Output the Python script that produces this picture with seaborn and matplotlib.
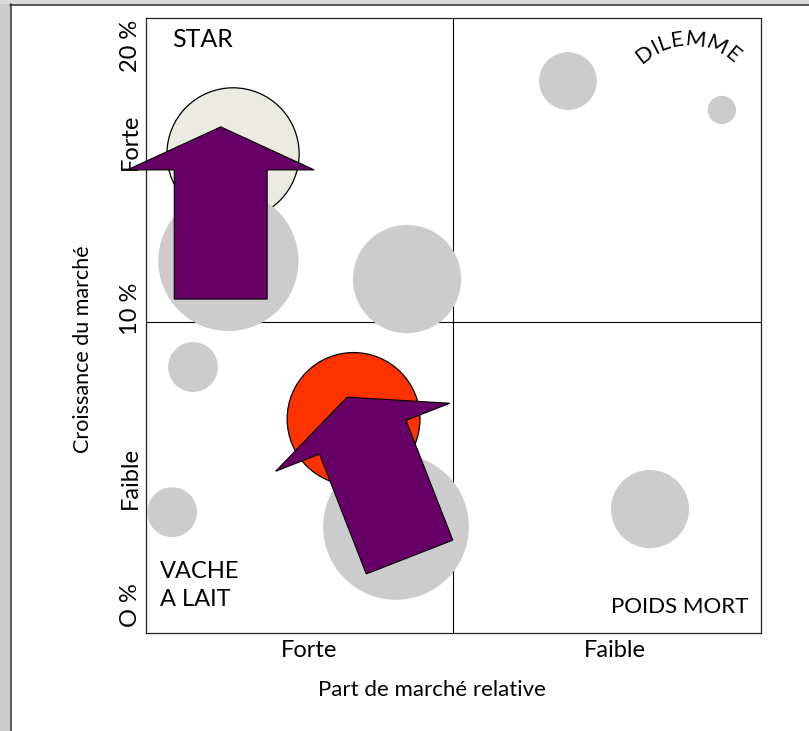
import numpy as np
import pandas as pd
import matplotlib
matplotlib.use("Agg")
import matplotlib.pyplot as plt
import seaborn as sns
from matplotlib.patches import Polygon, Rectangle
from matplotlib.lines import Line2D

# Portfolio bubbles: relative market share (0-20 scale, strong on the left),
# market growth in %, bubble radius in the same units
bubble_share = [2.83, 2.68, 8.49, 13.72, 18.73, 1.53, 6.75, 8.13, 0.85, 16.39]
bubble_growth = [15.58, 12.10, 11.51, 17.95, 17.01, 8.65, 6.96, 3.45, 3.93, 4.03]
bubble_radius = [2.15, 2.28, 1.76, 0.94, 0.46, 0.81, 2.16, 2.37, 0.81, 1.27]
bubble_kind = ["star", "other", "other", "other", "other",
               "other", "focus", "other", "other", "other"]

# Strategic moves: from tail to tip
arrow_tail = [(2.43, 10.86), (8.57, 2.47)]
arrow_tip = [(2.43, 16.46), (6.54, 7.67)]

# Quadrant boundaries
share_split = 9.98
growth_split = 10.1

quadrant_names = ["STAR", "DILEMME", "VACHE\nA LAIT", "POIDS MORT"]
x_tick_labels = ["Forte", "Faible"]
y_tick_labels = ["O %", "Faible", "10 %", "Forte", "20 %"]
x_title = "Part de marché relative"
y_title = "Croissance du marché"

sns.set_style("white")
plt.rcParams["font.family"] = ["Lato", "DejaVu Sans"]
for key in ["text.color", "axes.labelcolor", "xtick.color", "ytick.color"]:
    plt.rcParams[key] = "black"

W, H, DPI = 809, 731, 100
fig = plt.figure(figsize=(W / DPI, H / DPI), dpi=DPI)
fig.patch.set_facecolor("white")

# page frame
fig.add_artist(Rectangle((0, 0), 10 / W, 1, transform=fig.transFigure,
                         facecolor="#cbcbcb", edgecolor="none"))
fig.add_artist(Rectangle((0, (H - 4) / H), 1, 4 / H, transform=fig.transFigure,
                         facecolor="#d9d9d9", edgecolor="none"))
fig.add_artist(Line2D([10.5 / W, 10.5 / W], [0, (H - 4) / H], transform=fig.transFigure,
                      color="#3c3c3c", lw=1.2))
fig.add_artist(Line2D([10 / W, 1], [(H - 4.5) / H, (H - 4.5) / H], transform=fig.transFigure,
                      color="#3c3c3c", lw=1.2))

ax = fig.add_axes([146 / W, (H - 633) / H, 615 / W, 615 / H])
ax.set_xlim(0, 20)
ax.set_ylim(0, 20)
ax.set_facecolor("white")
for s in ax.spines.values():
    s.set_color("#222222")
    s.set_linewidth(0.9)

ax.axvline(share_split, color="black", lw=0.8, zorder=1)
ax.axhline(growth_split, color="black", lw=0.8, zorder=1)

df = pd.DataFrame({"share": bubble_share, "growth": bubble_growth,
                   "radius": bubble_radius, "kind": bubble_kind})
pt_per_unit = (615 / 20) * 72 / DPI
df["area"] = (2 * df["radius"] * pt_per_unit) ** 2

palette = {"star": "#ecebe2", "focus": "#ff3300", "other": "#cccccc"}
hi = df[df["kind"] != "other"]
lo = df[df["kind"] == "other"]
sns.scatterplot(data=hi, x="share", y="growth", hue="kind", palette=palette,
                size="area", sizes={a: a for a in hi["area"]}, edgecolor="black",
                linewidth=0.9, legend=False, ax=ax, zorder=2)
sns.scatterplot(data=lo, x="share", y="growth", hue="kind", palette=palette,
                size="area", sizes={a: a for a in lo["area"]}, linewidth=0,
                legend=False, ax=ax, zorder=3)

# arrows
shaft_w, head_w, head_l = 3.02, 6.08, 1.40
for (tx, ty), (px, py) in zip(arrow_tail, arrow_tip):
    tail = np.array([tx, ty])
    tip = np.array([px, py])
    u = (tip - tail) / np.linalg.norm(tip - tail)
    n = np.array([-u[1], u[0]])
    base = tip - u * head_l
    pts = [tail + n * shaft_w / 2, base + n * shaft_w / 2, base + n * head_w / 2, tip,
           base - n * head_w / 2, base - n * shaft_w / 2, tail - n * shaft_w / 2]
    ax.add_patch(Polygon(pts, closed=True, facecolor="#660066", edgecolor="black",
                         lw=0.8, zorder=4, clip_on=False))

# quadrant names
ax.text(0.85, 19.06, quadrant_names[0], fontsize=18, ha="left", va="baseline", zorder=5)
ax.text(0.46, 0.88, quadrant_names[2], fontsize=17, ha="left", va="baseline",
        linespacing=1.4, zorder=5)
ax.text(19.59, 0.65, quadrant_names[3], fontsize=16, ha="right", va="baseline", zorder=5)

# curved label along an arc
arc_cx, arc_cy, arc_r = 17.63, 17.0, 2.1
word = quadrant_names[1]
renderer = fig.canvas.get_renderer()
widths = []
for ch in word:
    t = ax.text(0, 0, ch, fontsize=16)
    widths.append(t.get_window_extent(renderer).width / (615 / 20))
    t.remove()
gap = 0.0
total = sum(widths) + gap * (len(word) - 1)
pos = -total / 2
for ch, w in zip(word, widths):
    s_mid = pos + w / 2
    ang = s_mid / arc_r
    x = arc_cx + arc_r * np.sin(ang)
    y = arc_cy + arc_r * np.cos(ang)
    ax.text(x, y, ch, fontsize=16, ha="center", va="baseline",
            rotation=-np.degrees(ang), rotation_mode="anchor", zorder=5)
    pos += w + gap

ax.set_xticks([5.30, 15.25])
ax.set_xticklabels(x_tick_labels, fontsize=17)
ax.set_yticks([0.91, 5.04, 10.54, 15.97, 19.09])
ax.set_yticklabels(y_tick_labels, fontsize=17, rotation=90, va="center")
ax.tick_params(axis="both", length=0)
ax.tick_params(axis="x", pad=5)
ax.tick_params(axis="y", pad=3.5)

ax.set_xlabel(x_title, fontsize=16)
ax.set_ylabel(y_title, fontsize=15.5)
ax.xaxis.set_label_coords(0.465, -0.093)
ax.xaxis.label.set_va("center")
ax.yaxis.set_label_coords(-0.102, 0.462)
ax.yaxis.label.set_va("center")

fig.savefig("out.png", dpi=DPI)
